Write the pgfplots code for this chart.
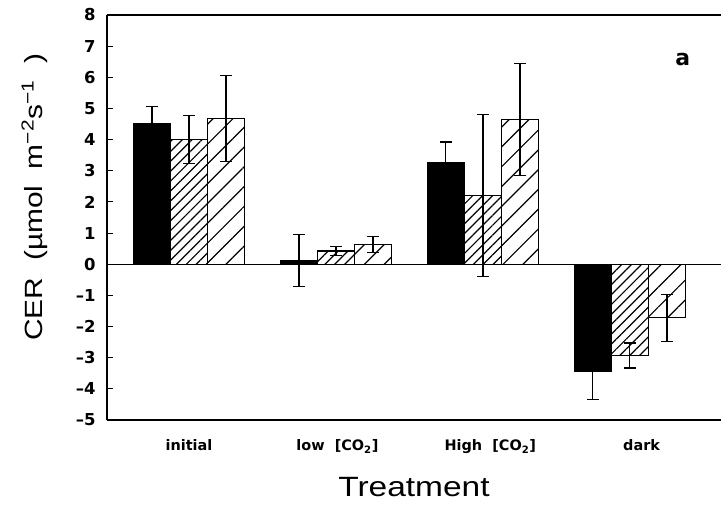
\documentclass[border=0pt]{standalone}
\usepackage{fontspec}
\setmainfont{Liberation Sans}[FakeStretch=1.2]
\newfontfamily\tickfont{DejaVu Sans}
\usepackage{pgfplots}
\pgfplotsset{compat=1.18}
\usetikzlibrary{patterns.meta}

\begin{document}
\begin{tikzpicture}
\begin{axis}[
  scale only axis,
  width=614bp, height=405bp,
  xmin=-0.558, xmax=3.62,
  ymin=-5, ymax=8,
  axis lines*=left,
  axis line style={line width=1.3bp},
  ybar=0pt, bar width=0.252,
  ytick={-5,-4,...,8},
  yticklabels={–5,–4,–3,–2,–1,0,1,2,3,4,5,6,7,8},
  yticklabel style={font=\tickfont\bfseries\fontsize{16.5}{17}\selectfont, xshift=-8bp},
  ytick style={line width=1bp, black},
  tick align=inside,
  major tick length=6bp,
  xtick={0,1.01,2.05,3.08},
  xticklabels={initial, low\ \ [CO\textsubscript{2}], High\ \ [CO\textsubscript{2}], dark},
  xticklabel style={font=\tickfont\bfseries\fontsize{14.5}{16}\selectfont, yshift=-16bp},
  xtick style={draw=none},
  extra y ticks={0},
  extra y tick labels={},
  extra y tick style={grid=major, major grid style={line width=1.2bp, black}, major tick length=0pt},
  xlabel={Treatment},
  xlabel style={font=\fontsize{28}{30}\selectfont, at={(axis description cs:0.5,-0.165)}, anchor=center},
  ylabel={CER\ \ (\textmu mol\ \ m\textsuperscript{−2}s\textsuperscript{−1}\ \ )},
  ylabel style={font=\fontsize{25}{27}\selectfont, at={(axis description cs:-0.118,0.55)}, anchor=center},
  error bars/y dir=both,
  error bars/y explicit,
  error bars/error bar style={line width=1.2bp, black},
  error bars/error mark options={rotate=90, mark size=6bp, line width=1.2bp, black},
  clip=false,
]
% solid bars
\addplot[draw=black, line width=1.3bp, fill=black]
  table[x index=0, y index=1, y error index=2] {
  0  4.50  0.55
  1  0.12  0.83
  2  3.25  0.67
  3 -3.43  0.90
};
% dense hatching
\addplot[draw=black, line width=1.3bp,
  pattern={Lines[angle=45, distance=7bp, line width=1.2bp]}, pattern color=black]
  table[x index=0, y index=1, y error index=2] {
  0  4.00  0.77
  1  0.42  0.15
  2  2.20  2.60
  3 -2.93  0.40
};
% sparse hatching
\addplot[draw=black, line width=1.3bp,
  pattern={Lines[angle=45, distance=14bp, line width=1.2bp]}, pattern color=black]
  table[x index=0, y index=1, y error index=2] {
  0  4.68  1.37
  1  0.63  0.26
  2  4.65  1.80
  3 -1.72  0.76
};
\draw[line width=1.3bp] (rel axis cs:0,1) -- (rel axis cs:1,1);
\node[font=\tickfont\bfseries\fontsize{22}{22}\selectfont] at (axis cs:3.36,6.58) {a};
\coordinate (O) at (rel axis cs:0,0);
\end{axis}
\pgfresetboundingbox
\path[use as bounding box] ([shift={(-107bp,-90bp)}]O) rectangle ++(721bp,510bp);
\end{tikzpicture}
\end{document}
